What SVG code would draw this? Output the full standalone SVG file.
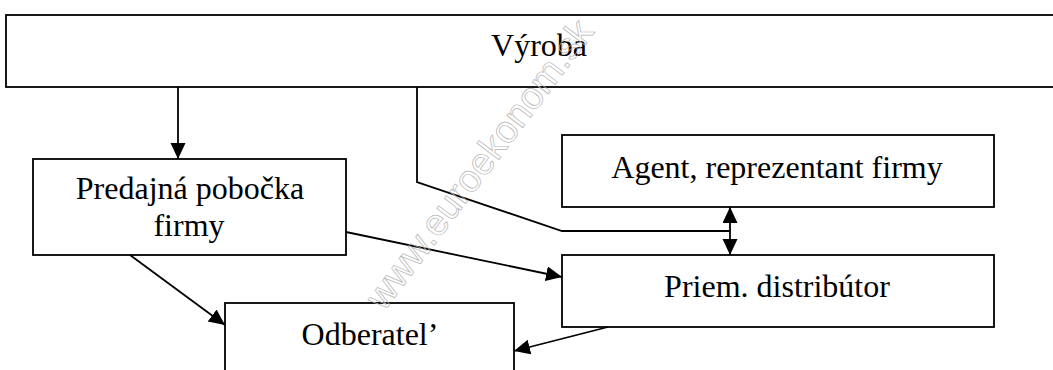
<svg xmlns="http://www.w3.org/2000/svg" width="1053" height="370" viewBox="0 0 1053 370">
<style>
.box{fill:#fff;stroke:#000;stroke-width:1.8}
.lbl{font-family:"Liberation Serif","Times New Roman",serif;font-size:32px;fill:#000;text-anchor:middle}
.ln{fill:none;stroke:#000;stroke-width:1.8}
.wm{font-family:"Liberation Sans",Arial,sans-serif;font-size:38px;fill:none;stroke:#b4b4b4;stroke-width:0.7}
</style>
<defs>
<marker id="ah" markerUnits="userSpaceOnUse" markerWidth="16" markerHeight="16" refX="16" refY="7.5" orient="auto-start-reverse">
<path d="M0,0 L16,7.5 L0,15 z" fill="#000"/>
</marker>
</defs>
<rect width="1053" height="370" fill="#fff"/>
<g id="node-vyroba">
<rect class="box" x="6" y="15" width="1060" height="72"/>
<text class="lbl" x="539" y="56">Výroba</text>
</g>
<g id="node-pobocka">
<rect class="box" x="33" y="159" width="313" height="96"/>
<text class="lbl" x="190" y="199">Predajná pobočka</text>
<text class="lbl" x="189" y="236">firmy</text>
</g>
<g id="node-agent">
<rect class="box" x="562" y="135" width="432" height="72"/>
<text class="lbl" x="777" y="178">Agent, reprezentant firmy</text>
</g>
<g id="node-distributor">
<rect class="box" x="562" y="255" width="432" height="72"/>
<text class="lbl" x="777" y="297">Priem. distribútor</text>
</g>
<g id="node-odberatel">
<rect class="box" x="225" y="303" width="289" height="90"/>
<text class="lbl" x="370" y="345">Odberatel’</text>
</g>
<g id="connectors">
<line class="ln" x1="178" y1="87" x2="178" y2="159" marker-end="url(#ah)"/>
<polyline class="ln" points="417,87 417,182 562,231 730,231"/>
<line class="ln" x1="730" y1="207" x2="730" y2="255" marker-start="url(#ah)" marker-end="url(#ah)"/>
<line class="ln" x1="346" y1="232" x2="562" y2="277" marker-end="url(#ah)"/>
<line class="ln" x1="130" y1="255" x2="225" y2="325" marker-end="url(#ah)"/>
<line class="ln" x1="608" y1="327" x2="514" y2="351" marker-end="url(#ah)"/>
</g>
<text class="wm" transform="translate(384,312) rotate(-53)">www.euroekonom.sk</text>
</svg>
